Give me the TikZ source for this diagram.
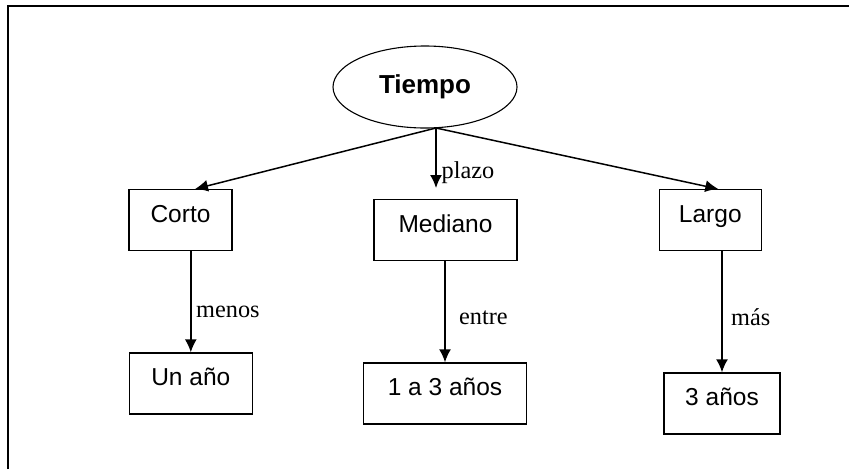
\documentclass[tikz,border=0pt]{standalone}
\usepackage{fontspec}
\setmainfont{Liberation Serif}
\setsansfont{Liberation Sans}
\usetikzlibrary{arrows.meta,shapes.geometric}
\tikzset{>={Latex[length=13pt,width=12pt]}}

\begin{document}
\begin{tikzpicture}[x=1pt, y=-1pt,
    caja/.style={draw, line width=1.2pt, inner sep=0pt, anchor=north,
      font=\sffamily\fontsize{24.5}{28}\selectfont, text height=33pt, text depth=28pt},
    etiqueta/.style={anchor=base west, inner sep=0pt, font=\fontsize{24.3}{28}\selectfont},
    flecha/.style={->, line width=1.5pt}]
    \useasboundingbox (0,0) rectangle (849,469);
    \draw[line width=2pt] (7.5,469) -- (7.5,6) -- (849,6);
    % concepto central
    \node[ellipse, draw, line width=1.1pt, inner sep=0pt, minimum width=184pt, minimum height=82pt,
      font=\sffamily\bfseries\fontsize{26}{30}\selectfont] (tiempo) at (425,87) {Tiempo};
    \coordinate (salida) at (436,128);
    \node[caja, minimum width=103pt] (corto) at (180.5,189) {Corto};
    \node[caja, minimum width=143pt] (mediano) at (445.5,199) {Mediano};
    \node[caja, minimum width=102pt] (largo) at (710.3,189) {Largo};
    \node[caja, minimum width=123pt] (unano) at (190.8,352.3) {Un año};
    \node[caja, minimum width=163pt] (unotres) at (445,362.3) {1 a 3 años};
    \node[caja, minimum width=116pt] (tres) at (722,372.3) {3 años};
    \draw[flecha] (salida) -- ([xshift=14.5pt]corto.north);
    \draw[flecha] (salida) -- ([xshift=-9.5pt,yshift=11pt]mediano.north);
    \draw[flecha] (salida) -- ([xshift=8pt]largo.north);
    \draw[flecha] (unano.north |- corto.south) -- (unano.north);
    \draw[flecha] (unotres.north |- mediano.south) -- (unotres.north);
    \draw[flecha] (tres.north |- largo.south) -- (tres.north);
    \node[etiqueta] (plazo) at (441.5,178.3) {plazo};
    \node[etiqueta] (menos) at (196,317.3) {menos};
    \node[etiqueta] (entre) at (459,324) {entre};
    \node[etiqueta] (mas) at (731,325) {más};
  \end{tikzpicture}
\end{document}
